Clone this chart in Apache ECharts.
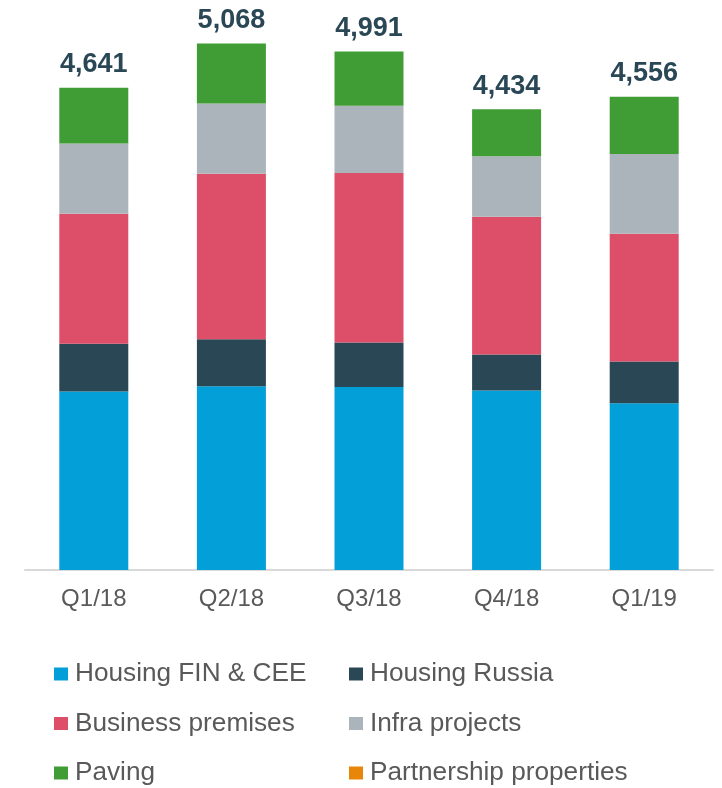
<!DOCTYPE html>
<html>
<head>
<meta charset="utf-8">
<title>Order backlog by segment</title>
<script src="https://cdn.jsdelivr.net/npm/echarts@6/dist/echarts.min.js"></script>
<style>
  html, body { margin: 0; padding: 0; background: #fff; }
  #chart { width: 722px; height: 788px; }
</style>
</head>
<body>
<div id="chart"></div>
<script>
// 数据
const quarters = ['Q1/18', 'Q2/18', 'Q3/18', 'Q4/18', 'Q1/19']
const housingFin = [1718, 1769, 1762, 1727, 1605]
const housingRussia = [459, 453, 428, 347, 402]
const businessPremises = [1253, 1591, 1632, 1326, 1230]
const infraProjects = [675, 678, 646, 582, 768]
const paving = [536, 577, 523, 452, 551]
const partnership = [0, 0, 0, 0, 0]
const totals = [4641, 5068, 4991, 4434, 4556]

const font = '"Liberation Sans", Arial, sans-serif'

const myChart = echarts.init(document.getElementById('chart'))

const makeSeries = (name, data, color) => ({
  name: name,
  type: 'bar',
  stack: 'total',
  barWidth: 69,
  data: data,
  itemStyle: { color: color },
  emphasis: { disabled: true }
})

const pavingSeries = makeSeries('Paving', paving, '#409D35')
// 合计标签放在最上面一段
pavingSeries.label = {
  show: true,
  position: 'top',
  distance: 8,
  formatter: (p) => totals[p.dataIndex].toLocaleString('en-US'),
  fontFamily: font,
  fontSize: 27,
  lineHeight: 30,
  fontWeight: 'bold',
  color: '#2A4756'
}

const legendText = {
  fontFamily: font,
  fontSize: 26.2,
  lineHeight: 30,
  color: '#595959',
  padding: [0, 0, 0, 2]
}

myChart.setOption({
  animation: false,
  grid: { left: 25, right: 9, top: 9, bottom: 218 },
  legend: [
    {
      data: ['Housing FIN & CEE', 'Business premises', 'Paving'],
      orient: 'vertical',
      left: 54,
      top: 659,
      padding: 0,
      itemGap: 19.5,
      itemWidth: 14,
      itemHeight: 13,
      icon: 'rect',
      selectedMode: false,
      textStyle: legendText
    },
    {
      data: ['Housing Russia', 'Infra projects', 'Partnership properties'],
      orient: 'vertical',
      left: 349,
      top: 659,
      padding: 0,
      itemGap: 19.5,
      itemWidth: 14,
      itemHeight: 13,
      icon: 'rect',
      selectedMode: false,
      textStyle: legendText
    }
  ],
  xAxis: {
    type: 'category',
    data: quarters,
    axisLine: { lineStyle: { color: '#D9D9D9', width: 2 } },
    axisTick: { show: false },
    axisLabel: {
      margin: 17,
      fontFamily: font,
      fontSize: 24,
      lineHeight: 24,
      color: '#595959'
    }
  },
  yAxis: {
    type: 'value',
    min: 0,
    max: 5400,
    show: false,
    splitLine: { show: false }
  },
  series: [
    makeSeries('Housing FIN & CEE', housingFin, '#029FD9'),
    makeSeries('Housing Russia', housingRussia, '#294754'),
    makeSeries('Business premises', businessPremises, '#DD4E69'),
    makeSeries('Infra projects', infraProjects, '#ABB4BA'),
    pavingSeries,
    makeSeries('Partnership properties', partnership, '#E8860A')
  ]
})
</script>
</body>
</html>
